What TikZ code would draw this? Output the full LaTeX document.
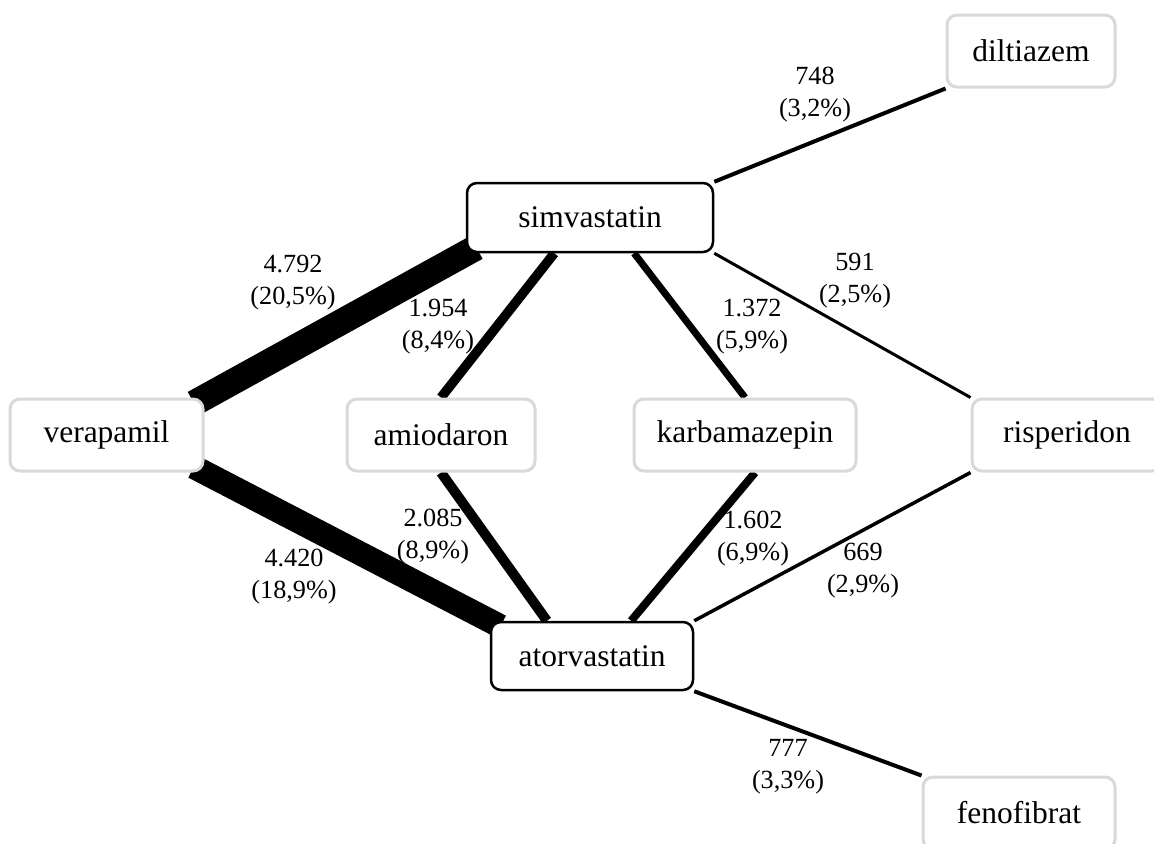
\documentclass[tikz,border=0pt]{standalone}
\usepackage{fontspec}
\setmainfont{Liberation Serif}
\usetikzlibrary{backgrounds}
\begin{document}
\begin{tikzpicture}[x=0.5pt, y=-0.5pt,
    drug/.style={draw=black!15, line width=1.5pt, rounded corners=5pt, fill=white,
      font=\fontsize{15.75}{18}\selectfont, minimum height=36pt, inner sep=0pt},
    statin/.style={drug, draw=black, line width=1.25pt, minimum height=34.5pt},
    count/.style={align=center, font=\fontsize{13.1}{16}\selectfont, inner sep=0pt},
    tucked/.style={shorten <=-6pt, shorten >=-6pt}]
    \useasboundingbox (0,0) rectangle (1154,843);
    % Statine
    \node[statin, minimum width=123pt] (simv) at (590,217.5) {simvastatin};
    \node[statin, minimum width=101pt, minimum height=34pt] (atorv) at (592,656) {atorvastatin};
    % Interaktionspartner
    \node[drug, minimum width=96.5pt] (vera) at (106.5,435) {verapamil};
    \node[drug, minimum width=94pt] (amio) at (441,435) {amiodaron};
    \node[drug, minimum width=111pt] (karb) at (745,435) {karbamazepin};
    \node[drug, minimum width=95pt] (risp) at (1067,435) {risperidon};
    \node[drug, minimum width=84pt] (dilt) at (1031,51) {diltiazem};
    \node[drug, minimum width=96pt] (feno) at (1019,813) {fenofibrat};
    % Verbindungen, Breite nach Anzahl
    \begin{scope}[on background layer]
        \draw[line width=13pt, tucked] (vera.north east) -- (simv.south west);
        \draw[line width=12pt, tucked] (vera.south east) -- (atorv.north west);
        \draw[line width=4.75pt] (amio.north) -- (simv.225);
        \draw[line width=5pt] (amio.south) -- (atorv.142);
        \draw[line width=3.5pt] (karb.north) -- (simv.-39);
        \draw[line width=4pt] (karb.-75) -- (atorv.42);
        \draw[line width=2pt] (simv.north east) -- (dilt.south west);
        \draw[line width=1.5pt] (simv.south east) -- (risp.north west);
        \draw[line width=1.75pt] (atorv.north east) -- (risp.south west);
        \draw[line width=2pt] (atorv.south east) -- (feno.north west);
    \end{scope}
    % Anzahlen
    \node[count] (nVS) at (293,283) {4.792\\(20,5\%)};
    \node[count] (nVA) at (294,577) {4.420\\(18,9\%)};
    \node[count] (nAS) at (438,327) {1.954\\(8,4\%)};
    \node[count] (nAA) at (433,537) {2.085\\(8,9\%)};
    \node[count] (nKS) at (752,327) {1.372\\(5,9\%)};
    \node[count] (nKA) at (753,539) {1.602\\(6,9\%)};
    \node[count] (nDS) at (815,95) {748\\(3,2\%)};
    \node[count] (nRS) at (855,281) {591\\(2,5\%)};
    \node[count] (nRA) at (863,571) {669\\(2,9\%)};
    \node[count] (nFA) at (788,767) {777\\(3,3\%)};
\end{tikzpicture}
\end{document}
